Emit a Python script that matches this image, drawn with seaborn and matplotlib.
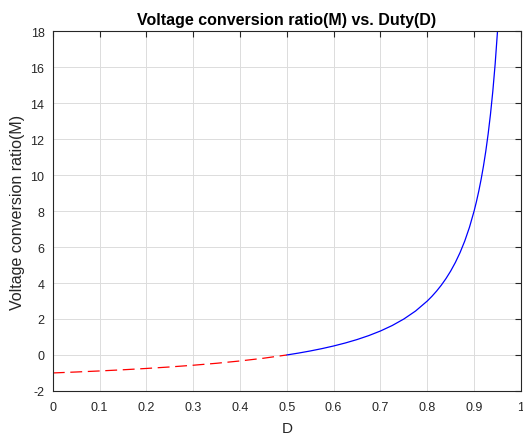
import matplotlib
matplotlib.use("Agg")
import matplotlib.pyplot as plt
import seaborn as sns
import pandas as pd

# D < 0.5 region
d_low = [0.0, 0.05, 0.1, 0.15, 0.2, 0.25, 0.3, 0.35, 0.4, 0.45, 0.5]
m_low = [-1.0, -0.947, -0.889, -0.824, -0.75, -0.667, -0.571, -0.462, -0.333, -0.182, 0.0]

# D >= 0.5 region
d_high = [0.5, 0.525, 0.55, 0.575, 0.6, 0.625, 0.65, 0.675, 0.7, 0.725, 0.75, 0.775,
          0.8, 0.81, 0.82, 0.83, 0.84, 0.85, 0.86, 0.87, 0.88, 0.89, 0.9, 0.905, 0.91,
          0.915, 0.92, 0.925, 0.93, 0.935, 0.94, 0.945, 0.95]
m_high = [0.0, 0.105, 0.222, 0.353, 0.5, 0.667, 0.857, 1.077, 1.333, 1.636, 2.0, 2.444,
          3.0, 3.263, 3.556, 3.882, 4.25, 4.667, 5.143, 5.692, 6.333, 7.091, 8.0, 8.526, 9.111,
          9.765, 10.5, 11.333, 12.286, 13.385, 14.667, 16.182, 18.0]

x_ticks = [0, 0.1, 0.2, 0.3, 0.4, 0.5, 0.6, 0.7, 0.8, 0.9, 1]
x_ticklabels = ["0", "0.1", "0.2", "0.3", "0.4", "0.5", "0.6", "0.7", "0.8", "0.9", "1"]
y_ticks = [-2, 0, 2, 4, 6, 8, 10, 12, 14, 16, 18]

sns.set_style("white")
plt.rcParams['font.family'] = ['Liberation Sans', 'DejaVu Sans']
plt.rcParams['axes.unicode_minus'] = False

fig = plt.figure(figsize=(5.23, 4.35), dpi=100)
ax = fig.add_axes([0.101, 0.099, 0.895, 0.827])

low_df = pd.DataFrame({"D": d_low, "M": m_low})
high_df = pd.DataFrame({"D": d_high, "M": m_high})

sns.lineplot(data=low_df, x="D", y="M", ax=ax, color="#ff0000", linestyle=(0, (9.5, 4.5)),
             linewidth=0.9, sort=False, estimator=None)
sns.lineplot(data=high_df, x="D", y="M", ax=ax, color="#0000ff", linewidth=0.9,
             sort=False, estimator=None)

ax.set_xlim(0, 1)
ax.set_ylim(-2, 18)
ax.set_xticks(x_ticks)
ax.set_xticklabels(x_ticklabels)
ax.set_yticks(y_ticks)

edge = "#262626"
for s in ax.spines.values():
    s.set_visible(True)
    s.set_color(edge)
    s.set_linewidth(0.8)
ax.tick_params(direction="in", length=4, width=0.8, colors=edge, labelsize=9,
               top=True, right=True, labelcolor=edge)
ax.tick_params(axis="x", pad=7)
ax.tick_params(axis="y", pad=6)
ax.grid(True, color="#dcdcdc", linewidth=0.7)
ax.set_axisbelow(True)

ax.set_xlabel("D", fontsize=11, color=edge, labelpad=6)
ax.set_ylabel("Voltage conversion ratio(M)", fontsize=11.5, color=edge, labelpad=4)
ax.set_title("Voltage conversion ratio(M) vs. Duty(D)", fontsize=11.5, fontweight="bold",
             color="black", pad=5)

fig.savefig("out.png", dpi=100)
